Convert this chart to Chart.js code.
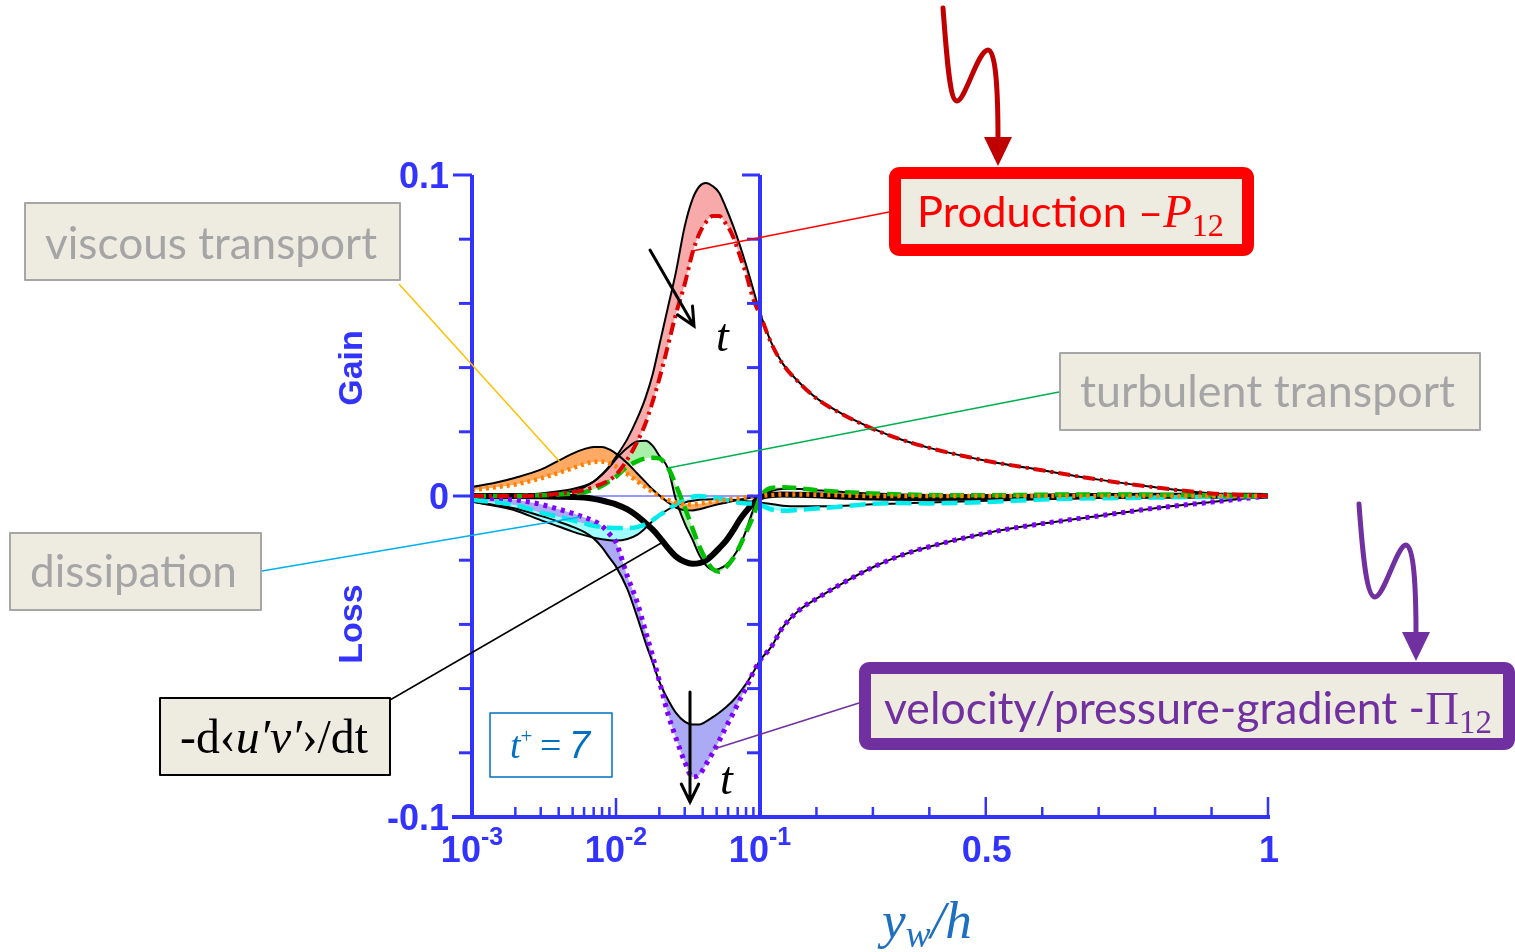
<!DOCTYPE html>
<html>
<head>
<meta charset="utf-8">
<title>Reynolds shear stress budget</title>
<script src="https://cdn.jsdelivr.net/npm/chart.js@4"></script>
<style>
  html, body { margin: 0; padding: 0; background: #fff; }
  #wrap { position: relative; width: 1515px; height: 952px; }
</style>
</head>
<body>
<div id="wrap"><canvas id="budget"></canvas></div>
<script>
// wall distance y_w/h at which every budget term is sampled
const yw = [0.001, 0.0015, 0.002, 0.003, 0.004, 0.005, 0.006, 0.007, 0.008, 0.009,
  0.01, 0.012, 0.014, 0.016, 0.018, 0.02, 0.023, 0.026, 0.03, 0.034,
  0.038, 0.042, 0.047, 0.052, 0.058, 0.065, 0.072, 0.08, 0.09, 0.1,
  0.12, 0.14, 0.17, 0.2, 0.25, 0.3, 0.35, 0.4, 0.5, 0.6, 0.7, 0.8, 0.9, 1.0];

// each term at two instants: A = solid black, B = coloured (later time)
const productionA = [0, 0, 0, 0.0002, 0.0007, 0.0015, 0.0027, 0.0045, 0.0068, 0.0093,
  0.0122, 0.0178, 0.024, 0.0305, 0.038, 0.047, 0.059, 0.0695, 0.084, 0.0925,
  0.0965, 0.0975, 0.0965, 0.0945, 0.0898, 0.0842, 0.0785, 0.072, 0.0642, 0.057,
  0.0478, 0.0413, 0.0353, 0.0305, 0.0252, 0.021, 0.0176, 0.015, 0.011, 0.008, 0.0051, 0.0027, 0.0008, 0];
const productionB = [0, 0, 0, 0.0002, 0.0007, 0.0012, 0.0018, 0.0028, 0.0038, 0.005,
  0.0066, 0.0114, 0.0168, 0.0225, 0.0295, 0.0365, 0.047, 0.0565, 0.066, 0.0758,
  0.0818, 0.0852, 0.0872, 0.0872, 0.0848, 0.0808, 0.0752, 0.0692, 0.0612, 0.0565,
  0.0476, 0.0412, 0.0352, 0.0304, 0.0251, 0.0209, 0.0176, 0.015, 0.011, 0.008, 0.0051, 0.0027, 0.0008, 0];

const viscousA = [0.0028, 0.0043, 0.0057, 0.0082, 0.011, 0.0132, 0.0146, 0.0153, 0.0153, 0.0145,
  0.0132, 0.0102, 0.0071, 0.0044, 0.002, 0.0002, -0.002, -0.0036, -0.0044, -0.0045,
  -0.0041, -0.0036, -0.003, -0.0025, -0.0021, -0.0016, -0.0012, -0.0008, -0.0004, -0.0002,
  0, 0.0003, 0.0004, 0.0004, 0.0002, 0, 0, 0, 0, 0, 0, 0, 0, 0];
const viscousB = [0.0018, 0.0028, 0.0036, 0.0055, 0.0072, 0.0087, 0.0099, 0.0106, 0.0107, 0.0102,
  0.0092, 0.0068, 0.0046, 0.0028, 0.0012, 0, -0.0012, -0.002, -0.0025, -0.0026,
  -0.0024, -0.0021, -0.0018, -0.0015, -0.0012, -0.0009, -0.0007, -0.0004, -0.0002, 0,
  0.0003, 0.0005, 0.0005, 0.0004, 0.0002, 0, 0, 0, 0, 0, 0, 0, 0, 0];

const turbulentA = [0, 0, 0.0002, 0.0008, 0.0015, 0.0022, 0.0031, 0.0045, 0.0066, 0.009,
  0.0115, 0.015, 0.017, 0.0172, 0.0156, 0.0125, 0.0085, -0.001, -0.0085, -0.0136,
  -0.0185, -0.0215, -0.023, -0.0227, -0.0215, -0.019, -0.0158, -0.0108, -0.0042, -0.0005,
  0.0015, 0.0022, 0.0022, 0.0018, 0.0012, 0.0008, 0.0005, 0.0003, 0.0002, 0.0004, 0.0005, 0.0004, 0.0002, 0];
const turbulentB = [0, 0, 0, 0.0002, 0.0005, 0.0008, 0.0012, 0.002, 0.0032, 0.0046,
  0.006, 0.0092, 0.0108, 0.0117, 0.0119, 0.0117, 0.0088, 0.0035, -0.0035, -0.0101,
  -0.0158, -0.0197, -0.0228, -0.0236, -0.0222, -0.0195, -0.0158, -0.0113, -0.0062, -0.0005,
  0.0025, 0.0027, 0.0024, 0.0018, 0.0012, 0.0008, 0.0005, 0.0003, 0.0002, 0.0004, 0.0005, 0.0004, 0.0002, 0];

const dissipationA = [-0.0018, -0.0032, -0.0045, -0.0075, -0.0095, -0.0111, -0.0122, -0.013, -0.0135, -0.0138,
  -0.0139, -0.0134, -0.0121, -0.01, -0.0078, -0.006, -0.0042, -0.0029, -0.002, -0.0015,
  -0.0012, -0.0011, -0.001, -0.001, -0.001, -0.0012, -0.0014, -0.0016, -0.0018, -0.002,
  -0.0025, -0.003, -0.0032, -0.0032, -0.003, -0.0026, -0.0023, -0.002, -0.0015, -0.001, -0.0006, -0.0003, -0.0001, 0];
const dissipationB = [-0.0012, -0.002, -0.0028, -0.0052, -0.0065, -0.0076, -0.0085, -0.0093, -0.0097, -0.0099,
  -0.01, -0.01, -0.0097, -0.0088, -0.0075, -0.006, -0.0042, -0.0026, -0.0012, -0.0002,
  0, -0.0002, -0.0005, -0.0008, -0.0012, -0.0017, -0.0021, -0.0023, -0.0024, -0.0028,
  -0.0042, -0.0046, -0.0043, -0.0039, -0.0032, -0.0024, -0.0022, -0.0023, -0.0019, -0.0011, -0.0007, -0.0005, -0.0002, 0];

const pressureA = [-0.0018, -0.0029, -0.0039, -0.0062, -0.008, -0.0096, -0.0112, -0.0132, -0.016, -0.0192,
  -0.022, -0.029, -0.0375, -0.0455, -0.052, -0.0578, -0.0635, -0.0675, -0.0703, -0.0712,
  -0.0712, -0.0703, -0.0689, -0.0675, -0.0658, -0.0637, -0.0613, -0.0585, -0.0548, -0.0512,
  -0.047, -0.041, -0.0355, -0.032, -0.0268, -0.0222, -0.0185, -0.0158, -0.0116, -0.0086, -0.0062, -0.0038, -0.0019, 0];
const pressureB = [-0.0005, -0.0008, -0.0012, -0.0026, -0.0041, -0.0054, -0.0066, -0.0078, -0.0094, -0.0118,
  -0.0145, -0.025, -0.033, -0.042, -0.05, -0.0577, -0.068, -0.0752, -0.0828, -0.0875,
  -0.0868, -0.0837, -0.08, -0.0763, -0.072, -0.0678, -0.0637, -0.0598, -0.0549, -0.0512,
  -0.047, -0.041, -0.0355, -0.032, -0.0268, -0.0222, -0.0185, -0.0158, -0.0116, -0.0086, -0.0062, -0.0038, -0.0019, 0];

// -d<u'v'>/dt
const rateOfChange = [0, 0, 0, -0.0001, -0.0002, -0.0003, -0.0005, -0.0009, -0.0014, -0.002,
  -0.0026, -0.0042, -0.0062, -0.0084, -0.0105, -0.0128, -0.0162, -0.0188, -0.0205, -0.0211,
  -0.0209, -0.0201, -0.0183, -0.0163, -0.014, -0.0108, -0.0075, -0.0048, -0.0022, -0.0005,
  0.0003, 0.0005, 0.0004, 0.0002, -0.0002, -0.0005, -0.0006, -0.0006, -0.0004, -0.0002, 0, 0.0001, 0.0001, 0];

// axis labels
const yTickLabels = [0.1, 0, -0.1];
const xDecades = [0.001, 0.01, 0.1];
const xLinearLabels = [0.5, 1];

const AXIS_BLUE = '#3333ff';
const SANS = 'Lato, "Open Sans", sans-serif';
const SERIF = '"Liberation Serif", "DejaVu Serif", serif';
const ARIAL = '"Liberation Sans", Arial, sans-serif';
const X_SPLIT = 0.1;

// x axis: logarithmic up to 0.1, then linear up to 1
class SplitLogScale extends Chart.LinearScale {
    getPixelForValue(value) {
        const share = this.options.logShare;
        const lo = Math.log10(this.min), mid = Math.log10(X_SPLIT);
        let t;
        if (value <= X_SPLIT) t = share * (Math.log10(value) - lo) / (mid - lo);
        else t = share + (1 - share) * (value - X_SPLIT) / (this.max - X_SPLIT);
        return this.left + t * this.width;
    }
    getValueForPixel(pixel) {
        const share = this.options.logShare;
        const t = (pixel - this.left) / this.width;
        const lo = Math.log10(this.min), mid = Math.log10(X_SPLIT);
        if (t <= share) return Math.pow(10, lo + (mid - lo) * t / share);
        return X_SPLIT + (this.max - X_SPLIT) * (t - share) / (1 - share);
    }
}
SplitLogScale.id = 'splitlog';
SplitLogScale.defaults = {};
Chart.register(SplitLogScale);

const pts = arr => yw.map((x, i) => ({ x, y: arr[i] }));

function blackCurve(arr) {
    return { data: pts(arr), borderColor: '#000', borderWidth: 2, fill: false, order: 3 };
}
function colourCurve(arr, color, dash, width, fillColor) {
    return { data: pts(arr), borderColor: color, borderWidth: width, borderDash: dash,
             fill: '-1', backgroundColor: fillColor, order: 1 };
}

// ---- drawing helpers ----
function segment(ctx, points, color, width) {
    ctx.save();
    ctx.strokeStyle = color;
    ctx.lineWidth = width;
    ctx.beginPath();
    ctx.moveTo(points[0][0], points[0][1]);
    for (let i = 1; i < points.length; i++) ctx.lineTo(points[i][0], points[i][1]);
    ctx.stroke();
    ctx.restore();
}

function roundedPath(ctx, x0, y0, x1, y1, r) {
    ctx.beginPath();
    ctx.moveTo(x0 + r, y0);
    ctx.lineTo(x1 - r, y0); ctx.quadraticCurveTo(x1, y0, x1, y0 + r);
    ctx.lineTo(x1, y1 - r); ctx.quadraticCurveTo(x1, y1, x1 - r, y1);
    ctx.lineTo(x0 + r, y1); ctx.quadraticCurveTo(x0, y1, x0, y1 - r);
    ctx.lineTo(x0, y0 + r); ctx.quadraticCurveTo(x0, y0, x0 + r, y0);
    ctx.closePath();
}

function box(ctx, x0, y0, x1, y1, fill, stroke, lw, r) {
    ctx.save();
    roundedPath(ctx, x0, y0, x1, y1, r || 0);
    if (fill) { ctx.fillStyle = fill; ctx.fill(); }
    if (stroke) { ctx.strokeStyle = stroke; ctx.lineWidth = lw; ctx.lineJoin = 'round'; ctx.stroke(); }
    ctx.restore();
}

// text made of several runs (fonts, sub/superscripts), sized to fill a given width;
// gap = extra advance after a run, in em
function drawRuns(ctx, runs, x, baseline, width, color) {
    const font = (r, size) => `${r.italic ? 'italic ' : ''}${r.bold ? 'bold ' : ''}${(size * (r.k || 1)).toFixed(2)}px ${r.family}`;
    let w100 = 0;
    for (const r of runs) {
        ctx.font = font(r, 100);
        w100 += ctx.measureText(r.text).width + (r.gap || 0) * 100;
    }
    const size = 100 * width / w100;
    ctx.save();
    ctx.fillStyle = color;
    ctx.textAlign = 'left';
    ctx.textBaseline = 'alphabetic';
    let cx = x;
    for (const r of runs) {
        ctx.font = font(r, size);
        ctx.fillText(r.text, cx, baseline + (r.dy || 0) * size);
        cx += ctx.measureText(r.text).width + (r.gap || 0) * size;
    }
    ctx.restore();
}

function arrow(ctx, x0, y0, x1, y1, head) {
    const a = Math.atan2(y1 - y0, x1 - x0);
    ctx.save();
    ctx.strokeStyle = '#000';
    ctx.lineWidth = 3;
    ctx.lineCap = 'round';
    ctx.beginPath();
    ctx.moveTo(x0, y0); ctx.lineTo(x1, y1);
    ctx.moveTo(x1 - head * Math.cos(a - 0.45), y1 - head * Math.sin(a - 0.45));
    ctx.lineTo(x1, y1);
    ctx.lineTo(x1 - head * Math.cos(a + 0.45), y1 - head * Math.sin(a + 0.45));
    ctx.stroke();
    ctx.restore();
}

function squiggle(ctx, color, path, tipX, baseY, tipY) {
    ctx.save();
    ctx.strokeStyle = color;
    ctx.fillStyle = color;
    ctx.lineWidth = 5;
    ctx.lineCap = 'round';
    ctx.beginPath();
    ctx.moveTo(path[0], path[1]);
    for (let i = 2; i < path.length; i += 6)
        ctx.bezierCurveTo(path[i], path[i + 1], path[i + 2], path[i + 3], path[i + 4], path[i + 5]);
    ctx.stroke();
    ctx.beginPath();
    ctx.moveTo(tipX - 14, baseY); ctx.lineTo(tipX + 14, baseY); ctx.lineTo(tipX, tipY);
    ctx.closePath();
    ctx.fill();
    ctx.restore();
}

const decorations = {
    id: 'decorations',
    beforeDatasetsDraw(chart) {
        const { ctx, scales: { x, y } } = chart;
        // thin zero line across the log part
        segment(ctx, [[x.left, y.getPixelForValue(0)], [x.getPixelForValue(X_SPLIT), y.getPixelForValue(0)]], AXIS_BLUE, 1);
    },
    afterDraw(chart) {
        const { ctx, scales: { x, y } } = chart;
        const xs = x.getPixelForValue(X_SPLIT);
        const bottom = y.getPixelForValue(-0.1);
        const top = y.getPixelForValue(0.1);

        // frame: left axis, split line at 0.1, bottom axis
        ctx.save();
        ctx.lineCap = 'butt';
        segment(ctx, [[x.left, top], [x.left, bottom + 2]], AXIS_BLUE, 4);
        segment(ctx, [[xs, top], [xs, bottom]], AXIS_BLUE, 4);
        segment(ctx, [[x.left - 20, bottom], [x.right + 2, bottom]], AXIS_BLUE, 4);

        for (let k = -4; k <= 5; k++) {
            const v = k * 0.02;
            const py = y.getPixelForValue(v);
            const long = yTickLabels.includes(+v.toFixed(2));
            segment(ctx, [[x.left - (long ? 19 : 13), py], [x.left, py]], AXIS_BLUE, 3);
            segment(ctx, [[xs - (k === 5 ? 18 : 13), py], [xs, py]], AXIS_BLUE, 3);
        }
        for (const d of [0.001, 0.01]) {
            for (let m = 2; m <= 9; m++) {
                const px = x.getPixelForValue(m * d);
                segment(ctx, [[px, bottom], [px, bottom - 10]], AXIS_BLUE, 2.5);
            }
        }
        segment(ctx, [[x.getPixelForValue(0.01), bottom], [x.getPixelForValue(0.01), bottom - 19]], AXIS_BLUE, 2.5);
        for (let k = 2; k <= 10; k++) {
            const v = k / 10;
            const px = x.getPixelForValue(v);
            const long = xLinearLabels.includes(v);
            segment(ctx, [[px, bottom], [px, bottom - (long ? 20 : 10)]], AXIS_BLUE, 2.5);
        }

        // tick labels
        ctx.fillStyle = AXIS_BLUE;
        ctx.font = `bold 36px ${ARIAL}`;
        ctx.textAlign = 'right';
        ctx.textBaseline = 'alphabetic';
        yTickLabels.forEach(v => {
            ctx.fillText(v === 0 ? '0' : v.toFixed(1), 449, y.getPixelForValue(v) + 13);
        });
        xDecades.forEach(d => {
            const exp = String(Math.round(Math.log10(d)));
            ctx.font = `bold 36px ${ARIAL}`;
            const w1 = ctx.measureText('10').width;
            ctx.font = `bold 25px ${ARIAL}`;
            const w2 = ctx.measureText(exp).width;
            const x0 = x.getPixelForValue(d) - (w1 + w2) / 2;
            ctx.textAlign = 'left';
            ctx.font = `bold 36px ${ARIAL}`;
            ctx.fillText('10', x0, bottom + 45);
            ctx.font = `bold 25px ${ARIAL}`;
            ctx.fillText(exp, x0 + w1, bottom + 28);
        });
        ctx.textAlign = 'center';
        ctx.font = `bold 36px ${ARIAL}`;
        xLinearLabels.forEach(v => ctx.fillText(String(v), x.getPixelForValue(v) + 1, bottom + 45));

        // Gain / Loss
        ctx.font = `bold 34px ${ARIAL}`;
        ctx.textBaseline = 'middle';
        [['Gain', 368], ['Loss', 624]].forEach(([txt, cy]) => {
            ctx.save();
            ctx.translate(353, cy);
            ctx.rotate(-Math.PI / 2);
            ctx.fillText(txt, 0, 0);
            ctx.restore();
        });
        ctx.restore();

        // axis title y_w/h
        drawRuns(ctx, [
            { text: 'y', family: SERIF, italic: true },
            { text: 'w', family: SERIF, italic: true, k: 0.7, dy: 0.16 },
            { text: '/h', family: SERIF, italic: true }
        ], 882, 938, 90, '#1f6fc0');

        // leader lines from the labels to their curves
        segment(ctx, [[399, 284], [560, 462]], '#ffc000', 1.5);
        segment(ctx, [[262, 571], [580, 517]], '#00b0f0', 1.5);
        segment(ctx, [[1059, 392], [668, 468]], '#00b050', 1.5);
        segment(ctx, [[889, 212], [692, 251]], '#ff0000', 1.5);
        segment(ctx, [[859, 703], [714, 749]], '#7030a0', 1.5);
        segment(ctx, [[390, 700], [663, 542]], '#000000', 1.5);

        // grey labels
        const BEIGE = '#eeece1';
        box(ctx, 25, 203, 400, 280, BEIGE, '#a6a6a6', 2);
        drawRuns(ctx, [{ text: 'viscous transport', family: SANS }], 45, 259, 332, '#a5a5a5');
        box(ctx, 1060, 353, 1480, 430, BEIGE, '#a6a6a6', 2);
        drawRuns(ctx, [{ text: 'turbulent transport', family: SANS }], 1080, 407, 375, '#a5a5a5');
        box(ctx, 10, 533, 261, 610, BEIGE, '#a6a6a6', 2);
        drawRuns(ctx, [{ text: 'dissipation', family: SANS }], 30, 587, 207, '#a5a5a5');

        // -d<u'v'>/dt
        box(ctx, 160, 698, 390, 775, BEIGE, '#000', 2);
        drawRuns(ctx, [
            { text: '-d‹', family: SERIF },
            { text: 'u′v′', family: SERIF, italic: true },
            { text: '›/dt', family: SERIF }
        ], 180, 753, 188, '#000');

        // t+ = 7
        box(ctx, 490, 713, 612, 777, null, '#0070c0', 1.5);
        drawRuns(ctx, [
            { text: 't', family: SERIF, italic: true },
            { text: '+', family: SERIF, k: 0.55, dy: -0.4, gap: 0.2 },
            { text: '=', family: SERIF, gap: 0.2 },
            { text: '7', family: ARIAL, italic: true }
        ], 510, 758, 80, '#0070c0');

        // Production -P12
        box(ctx, 895, 173, 1248, 250, BEIGE, '#ff0000', 12, 5);
        drawRuns(ctx, [
            { text: 'Production –', family: SANS },
            { text: 'P', family: SERIF, italic: true, k: 1.08 },
            { text: '12', family: SERIF, k: 0.74, dy: 0.2 }
        ], 917, 227, 307, '#ff0000');

        // velocity/pressure-gradient -Pi12
        box(ctx, 865, 668, 1509, 744, BEIGE, '#7030a0', 12, 5);
        drawRuns(ctx, [
            { text: 'velocity/pressure-gradient -', family: SANS },
            { text: 'Π', family: SERIF, k: 1.05 },
            { text: '12', family: SERIF, k: 0.74, dy: 0.2 }
        ], 884, 724, 608, '#7030a0');

        // time arrows
        arrow(ctx, 650, 250, 694, 326, 20);
        arrow(ctx, 690, 692, 690, 802, 20);
        ctx.save();
        ctx.fillStyle = '#000';
        ctx.font = `italic 46px ${SERIF}`;
        ctx.textAlign = 'left';
        ctx.fillText('t', 716, 351);
        ctx.fillText('t', 720, 794);
        ctx.restore();

        // wavy pointers above the two boxes
        squiggle(ctx, '#c00000', [943, 8, 947, 62, 950, 101, 957, 101, 965, 101, 978, 50, 988, 50, 996, 50, 998, 92, 998, 140], 998, 137, 166);
        squiggle(ctx, '#7030a0', [1359, 504, 1363, 560, 1367, 597, 1375, 597, 1384, 597, 1397, 545, 1406, 545, 1414, 545, 1416, 590, 1416, 634], 1416, 632, 661);
    }
};

new Chart(document.getElementById('budget'), {
    type: 'line',
    data: {
        datasets: [
            blackCurve(productionA),
            colourCurve(productionB, 'rgb(220,0,0)', [12, 5, 3, 5], 4, 'rgb(248,170,170)'),
            blackCurve(viscousA),
            colourCurve(viscousB, 'rgb(255,128,0)', [3, 4], 4.5, 'rgb(255,170,100)'),
            blackCurve(turbulentA),
            colourCurve(turbulentB, 'rgb(0,190,0)', [14, 7], 4.5, 'rgb(170,240,170)'),
            blackCurve(dissipationA),
            colourCurve(dissipationB, 'rgb(0,235,235)', [16, 7], 4.5, 'rgb(160,255,255)'),
            blackCurve(pressureA),
            colourCurve(pressureB, 'rgb(128,0,255)', [4, 5], 5, 'rgb(170,170,245)'),
            { data: pts(rateOfChange), borderColor: '#000', borderWidth: 6, fill: false, order: 2 }
        ]
    },
    options: {
        responsive: true,
        maintainAspectRatio: false,
        animation: false,
        events: [],
        layout: { padding: { left: 472, right: 247, top: 175, bottom: 135 } },
        elements: {
            point: { radius: 0 },
            line: { cubicInterpolationMode: 'monotone' }
        },
        plugins: {
            legend: { display: false },
            tooltip: { enabled: false },
            filler: { drawTime: 'beforeDatasetsDraw' }
        },
        scales: {
            x: { type: 'splitlog', min: 0.001, max: 1, logShare: 288 / 796, display: false },
            y: { type: 'linear', min: -0.1, max: 0.1, display: false }
        }
    },
    plugins: [decorations]
});
</script>
</body>
</html>
